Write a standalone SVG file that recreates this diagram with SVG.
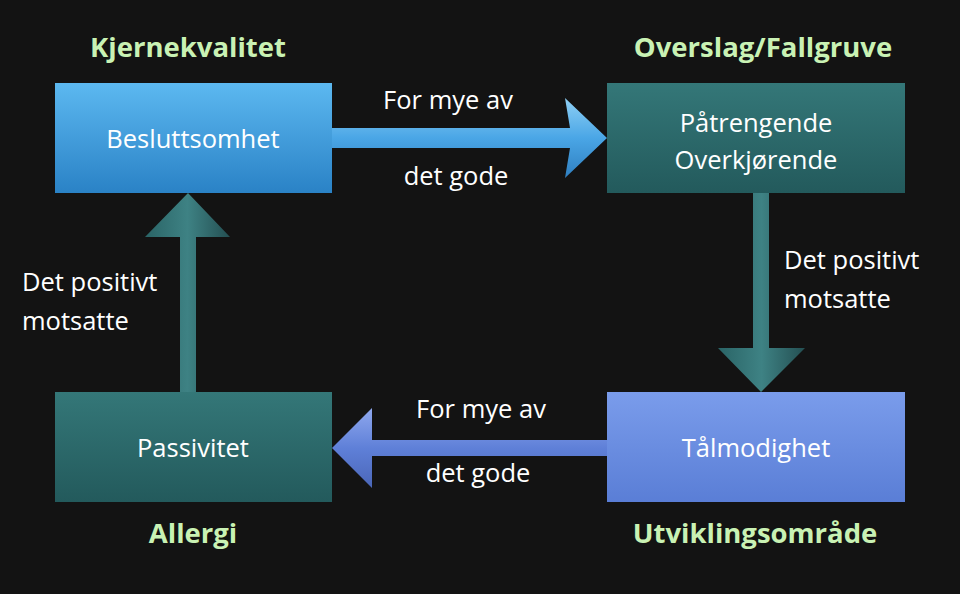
<svg xmlns="http://www.w3.org/2000/svg" width="960" height="594" viewBox="0 0 960 594">
<defs>
<linearGradient id="gb" x1="0" y1="0" x2="0" y2="1"><stop offset="0" stop-color="#5cb8f0"/><stop offset="1" stop-color="#2a82c6"/></linearGradient>
<linearGradient id="gt" x1="0" y1="0" x2="0" y2="1"><stop offset="0" stop-color="#347778"/><stop offset="1" stop-color="#235a5c"/></linearGradient>
<linearGradient id="gp" x1="0" y1="0" x2="0" y2="1"><stop offset="0" stop-color="#7a9ceb"/><stop offset="1" stop-color="#5a7ed6"/></linearGradient>
<linearGradient id="ah" x1="0" y1="0" x2="0" y2="1"><stop offset="0" stop-color="#8fd0f5"/><stop offset="0.5" stop-color="#4aa6e6"/><stop offset="1" stop-color="#2f7fc0"/></linearGradient>
<linearGradient id="ab" x1="0" y1="0" x2="0" y2="1"><stop offset="0" stop-color="#8fa8ee"/><stop offset="0.5" stop-color="#5f80d8"/><stop offset="1" stop-color="#4a66b8"/></linearGradient>
<linearGradient id="av" x1="0" y1="0" x2="1" y2="0"><stop offset="0" stop-color="#2a6466"/><stop offset="0.5" stop-color="#3e8284"/><stop offset="1" stop-color="#244f52"/></linearGradient>
</defs>
<style>
.t{font-family:"Open Sans","DejaVu Sans",sans-serif;font-size:25.5px;fill:#fff}
.h{font-family:"Open Sans","DejaVu Sans",sans-serif;font-size:27.5px;font-weight:bold;fill:#c9f2b4}
.c{text-anchor:middle}
</style>
<rect width="960" height="594" fill="#131313"/>
<g id="connectors">
<polygon points="332,128 570,128 565,98 607,138 565,178 570,148 332,148" fill="url(#ah)"/>
<polygon points="753,193 769,193 769,348 805,348 761,392 718,348 753,348" fill="url(#av)"/>
<polygon points="607,440 372,440 372,408 332,448 372,488 372,456 607,456" fill="url(#ab)"/>
<polygon points="180,392 196,392 196,237 230,237 188,193 145,237 180,237" fill="url(#av)"/>
<text class="t c" x="448" y="109">For mye av</text>
<text class="t c" x="456" y="185">det gode</text>
<text class="t" x="784" y="269">Det positivt</text>
<text class="t" x="784" y="308">motsatte</text>
<text class="t c" x="481" y="418">For mye av</text>
<text class="t c" x="478" y="482">det gode</text>
<text class="t" x="22" y="291">Det positivt</text>
<text class="t" x="22" y="330">motsatte</text>
</g>
<g id="n1"><rect x="55" y="83" width="277" height="110" fill="url(#gb)"/><text class="t c" x="193" y="148">Besluttsomhet</text><text class="h c" x="188" y="57">Kjernekvalitet</text></g>
<g id="n2"><rect x="607" y="83" width="298" height="110" fill="url(#gt)"/><text class="t c" x="756" y="132">Påtrengende</text><text class="t c" x="756" y="169">Overkjørende</text><text class="h c" x="763" y="57">Overslag/Fallgruve</text></g>
<g id="n3"><rect x="607" y="392" width="298" height="110" fill="url(#gp)"/><text class="t c" x="756" y="457">Tålmodighet</text><text class="h c" x="755" y="543">Utviklingsområde</text></g>
<g id="n4"><rect x="55" y="392" width="277" height="110" fill="url(#gt)"/><text class="t c" x="193" y="457">Passivitet</text><text class="h c" x="193" y="543">Allergi</text></g>
</svg>
